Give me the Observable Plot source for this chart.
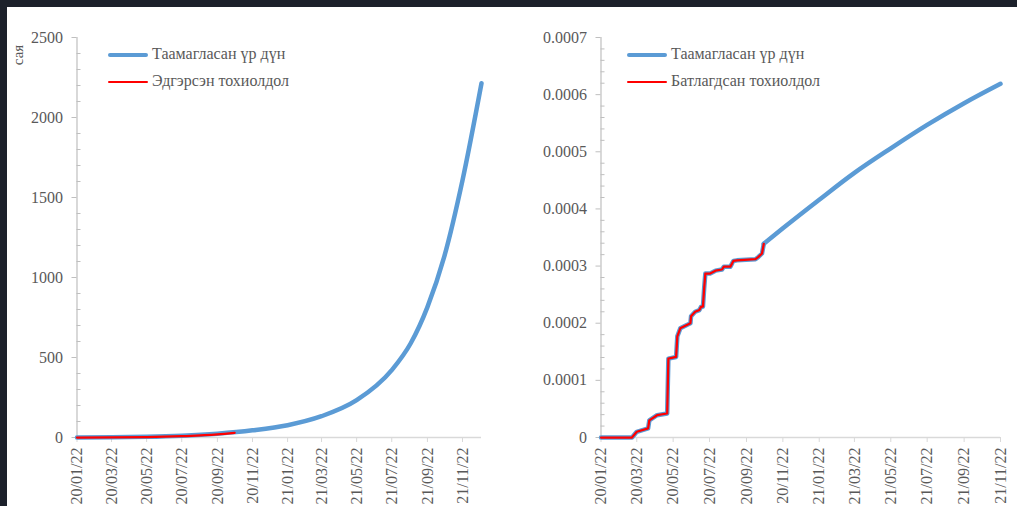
<!DOCTYPE html>
<html>
<head>
<meta charset="utf-8">
<script src="https://cdn.jsdelivr.net/npm/d3@7"></script>
<script src="https://cdn.jsdelivr.net/npm/@observablehq/plot@0.6"></script>
<style>
  html, body { margin: 0; padding: 0; background: #ffffff; }
  body { width: 1017px; height: 506px; overflow: hidden; position: relative; font-family: "Liberation Serif", "DejaVu Serif", serif; }
  .band { position: absolute; background: #1c212b; z-index: 5; }
  .panel { position: absolute; top: 0; }
  .legend-line { position: absolute; }
  .legend-text { position: absolute; font-size: 16px; line-height: 20px; color: #595959; white-space: nowrap; }
  .ylabel { position: absolute; font-size: 15px; color: #595959; transform: rotate(-90deg); transform-origin: center; white-space: nowrap; }
</style>
</head>
<body>
<div class="band" style="left:0;top:0;width:1017px;height:7px"></div>
<div class="band" style="left:0;top:0;width:7px;height:506px"></div>
<div id="left" class="panel" style="left:0"></div>
<div id="right" class="panel" style="left:510px"></div>
<div class="ylabel" style="left:5px;top:45px;width:26px;text-align:center;line-height:20px">сая</div>
<script>
// ---- Shared x-axis ticks (every two months, on the 22nd) ----
const tickDates = ["2020-01-22", "2020-03-22", "2020-05-22", "2020-07-22", "2020-09-22", "2020-11-22",
                   "2021-01-22", "2021-03-22", "2021-05-22", "2021-07-22", "2021-09-22", "2021-11-22"];

// ---- Left panel: recovered cases worldwide (millions) ----
const leftPredDates  = ["2020-01-22", "2020-03-22", "2020-05-22", "2020-07-22", "2020-09-22", "2020-11-22",
                        "2021-01-22", "2021-03-22", "2021-05-22", "2021-07-22", "2021-08-24", "2021-09-22",
                        "2021-10-21", "2021-11-22", "2021-12-25"];
const leftPredValues = [0, 1, 4, 11, 24, 45, 77, 133, 233, 421, 589, 815, 1127, 1608, 2214];

const recoveredDates  = ["2020-01-22", "2020-03-22", "2020-05-22", "2020-07-22", "2020-09-22", "2020-10-22"];
const recoveredValues = [0, 0.2, 2, 8, 19, 29];

const leftYTicks = [0, 500, 1000, 1500, 2000, 2500];

// ---- Right panel: confirmed cases share, observed steps and forecast ----
const confirmedDates = ["2020-01-22", "2020-03-14", "2020-03-22", "2020-04-10", "2020-04-12", "2020-04-25",
                        "2020-05-12", "2020-05-14", "2020-05-27", "2020-05-29", "2020-06-03", "2020-06-14",
                        "2020-06-20", "2020-06-21", "2020-06-28", "2020-07-05", "2020-07-08", "2020-07-11",
                        "2020-07-13", "2020-07-15", "2020-07-23", "2020-08-01", "2020-08-12", "2020-08-15",
                        "2020-08-26", "2020-08-31", "2020-09-06", "2020-10-07", "2020-10-12", "2020-10-18",
                        "2020-10-21"];
const confirmedValues = [0, 0, 0.000010, 0.000016, 0.000030, 0.000039,
                         0.000042, 0.000138, 0.000141, 0.000177, 0.000191, 0.000197,
                         0.000200, 0.000212, 0.000220, 0.000223, 0.000229, 0.000229,
                         0.000261, 0.000287, 0.000287, 0.000292, 0.000294, 0.000299,
                         0.000299, 0.000309, 0.000310, 0.000312, 0.000316, 0.000322,
                         0.000339];

const forecastDates  = ["2020-10-21", "2020-11-22", "2021-01-22", "2021-03-22", "2021-05-22",
                        "2021-07-22", "2021-09-22", "2021-11-22"];
const forecastValues = [0.000339, 0.000366, 0.000416, 0.000463, 0.000506, 0.000547, 0.000585, 0.000619];

const rightYTicks = [0, 0.0001, 0.0002, 0.0003, 0.0004, 0.0005, 0.0006, 0.0007];

// ---- helpers ----
const parse = d3.utcParse("%Y-%m-%d");
const fmtDate = d3.utcFormat("%y/%m/%d");
const rows = (dates, values) => dates.map((d, i) => ({date: parse(d), value: values[i]}));
const xTicks = tickDates.map(parse);

const BLUE = "#5b9bd5", RED = "#ff0000", AXIS = "#bfbfbf", XAXIS = "#d9d9d9", TEXT = "#595959";
const FONT = "'Liberation Serif', 'DejaVu Serif', serif";

function minorTicks(majors, step) {
  const top = majors[majors.length - 1];
  const out = [];
  for (let i = 1; i * step < top + step / 2; i++) {
    const v = +(i * step).toPrecision(6);
    if (!majors.some(m => Math.abs(m - v) < step / 10)) out.push(v);
  }
  return out;
}

function chart({width, marginLeft, marginRight, xEnd, yTicks, yFormat, minorStep, lines}) {
  const x0 = xTicks[0];
  return Plot.plot({
    width, height: 506,
    marginTop: 37, marginBottom: 69, marginLeft, marginRight,
    style: {fontFamily: FONT, fontSize: "16px", color: TEXT, background: "transparent", overflow: "visible"},
    x: {type: "utc", domain: [x0, parse(xEnd)]},
    y: {domain: [0, yTicks[yTicks.length - 1]]},
    marks: [
      Plot.ruleY([0], {stroke: XAXIS, strokeWidth: 1.6}),
      Plot.ruleX([x0], {stroke: AXIS, strokeWidth: 1.2}),
      Plot.axisX(xTicks, {tickSize: 5, tickPadding: 5, tickRotate: -90, tickFormat: fmtDate,
                          stroke: XAXIS, fill: TEXT, label: null}),
      Plot.axisY(yTicks, {tickSize: 5, tickPadding: 9, tickFormat: yFormat, stroke: AXIS, fill: TEXT, label: null}),
      Plot.axisY(minorTicks(yTicks, minorStep), {tickSize: 4, dx: 4, tickFormat: () => "", stroke: AXIS, label: null}),
      ...lines
    ]
  });
}

// Left chart
document.getElementById("left").append(chart({
  width: 510, marginLeft: 76.5, marginRight: 29, xEnd: "2021-12-25",
  yTicks: leftYTicks, yFormat: d => String(d), minorStep: 100,
  lines: [
    Plot.line(rows(leftPredDates, leftPredValues), {x: "date", y: "value", stroke: BLUE, strokeWidth: 4.5,
              curve: "monotone-x", strokeLinecap: "round", strokeLinejoin: "round"}),
    Plot.line(rows(recoveredDates, recoveredValues), {x: "date", y: "value", stroke: RED, strokeWidth: 2.25,
              curve: "monotone-x"})
  ]
}));

// Right chart
document.getElementById("right").append(chart({
  width: 507, marginLeft: 90.5, marginRight: 17, xEnd: "2021-11-22",
  yTicks: rightYTicks, yFormat: d => d === 0 ? "0" : d.toFixed(4), minorStep: 0.00002,
  lines: [
    Plot.line(rows(confirmedDates, confirmedValues), {x: "date", y: "value", stroke: BLUE, strokeWidth: 4.5,
              strokeLinecap: "round", strokeLinejoin: "round"}),
    Plot.line(rows(forecastDates, forecastValues), {x: "date", y: "value", stroke: BLUE, strokeWidth: 4.5,
              curve: "monotone-x", strokeLinecap: "round", strokeLinejoin: "round"}),
    Plot.line(rows(confirmedDates, confirmedValues), {x: "date", y: "value", stroke: RED, strokeWidth: 2.25,
              strokeLinejoin: "round"})
  ]
}));

// Legends
function legend(left, items) {
  items.forEach(({label, color, thickness, y}) => {
    const line = document.createElement("div");
    line.className = "legend-line";
    Object.assign(line.style, {left: left + "px", top: (y - thickness / 2) + "px", width: "40px",
      height: thickness + "px", background: color, borderRadius: (thickness / 2) + "px"});
    const text = document.createElement("div");
    text.className = "legend-text";
    text.textContent = label;
    Object.assign(text.style, {left: (left + 44) + "px", top: (y - 11) + "px"});
    document.body.append(line, text);
  });
}
legend(108, [
  {label: "Таамагласан үр дүн", color: BLUE, thickness: 4.5, y: 55},
  {label: "Эдгэрсэн тохиолдол", color: RED, thickness: 2.25, y: 82}
]);
legend(627, [
  {label: "Таамагласан үр дүн", color: BLUE, thickness: 4.5, y: 55},
  {label: "Батлагдсан тохиолдол", color: RED, thickness: 2.25, y: 82}
]);
</script>
</body>
</html>
